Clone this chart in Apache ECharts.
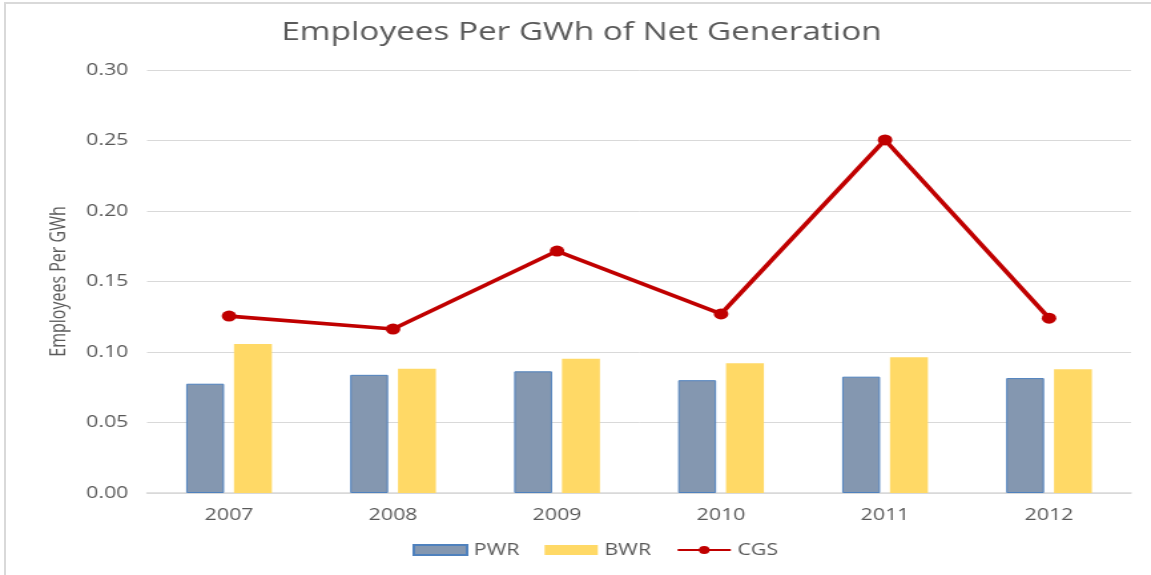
<!DOCTYPE html>
<html>
<head>
<meta charset="utf-8">
<script src="https://cdn.jsdelivr.net/npm/echarts@6/dist/echarts.min.js"></script>
<style>
html,body{margin:0;padding:0;background:#fff;overflow:hidden;}
#wrap{position:absolute;left:0;top:0;width:1151px;height:575px;overflow:hidden;}
#bl{position:absolute;left:4px;top:2px;width:2px;height:573px;background:#d9d9d9;}
#bt{position:absolute;left:4px;top:2px;width:1147px;height:2px;background:#d9d9d9;}
#chart{position:absolute;left:0;top:0;width:865px;height:575px;transform-origin:0 0;transform:scaleX(1.3306);}
</style>
</head>
<body>
<div id="wrap"><div id="chart"></div><div id="bl"></div><div id="bt"></div></div>
<script>
const categories = ['2007','2008','2009','2010','2011','2012'];
const pwr = [0.0775, 0.0838, 0.0863, 0.0800, 0.0825, 0.0815];
const bwr = [0.1057, 0.0882, 0.0952, 0.0920, 0.0962, 0.0877];
const cgs = [0.1255, 0.1163, 0.1716, 0.1270, 0.2504, 0.1240];
const yTicks = [0, 0.05, 0.10, 0.15, 0.20, 0.25, 0.30];

const chart = echarts.init(document.getElementById('chart'));
const txt = '#595959';
const font = '"Open Sans", sans-serif';
chart.setOption({
  animation: false,
  backgroundColor: 'transparent',
  title: {
    text: 'Employees Per GWh of Net Generation',
    left: 432, top: 15, textAlign: 'center',
    textStyle: {color: txt, fontSize: 25, fontWeight: 'normal', fontFamily: font}
  },
  grid: {left: 110.5, right: 15, top: 70, bottom: 82, containLabel: false},
  legend: {
    bottom: 12, left: 305, itemGap: 19, itemWidth: 40, itemHeight: 10,
    textStyle: {color: txt, fontSize: 16, fontFamily: font},
    data: [
      {name: 'PWR', icon: 'rect'},
      {name: 'BWR', icon: 'rect'},
      {name: 'CGS'}
    ]
  },
  xAxis: {
    type: 'category', data: categories,
    axisLine: {lineStyle: {color: '#d9d9d9', width: 1.5}},
    axisTick: {show: false},
    axisLabel: {color: txt, fontSize: 16, fontFamily: font, margin: 14}
  },
  yAxis: {
    type: 'value', min: 0, max: 0.30, interval: 0.05,
    name: 'Employees Per GWh', nameLocation: 'middle', nameGap: 58, nameRotate: 90,
    nameTextStyle: {color: txt, fontSize: 16, fontFamily: font},
    axisLabel: {color: txt, fontSize: 16, fontFamily: font, margin: 14,
      formatter: v => { const t = yTicks.find(x => Math.abs(x - v) < 1e-9); return (t === undefined ? v : t).toFixed(2); }},
    splitLine: {lineStyle: {color: '#d9d9d9', width: 1}},
    axisLine: {show: false}, axisTick: {show: false}
  },
  series: [
    {name: 'PWR', type: 'bar', data: pwr, barWidth: 28.5, barGap: '26%',
     itemStyle: {color: '#8497B0', borderColor: '#4F81BD', borderWidth: 1}},
    {name: 'BWR', type: 'bar', data: bwr, barWidth: 28.5,
     itemStyle: {color: '#FFD966'}},
    {name: 'CGS', type: 'line', data: cgs, symbol: 'circle', symbolSize: 11,
     lineStyle: {color: '#C00000', width: 3.7}, itemStyle: {color: '#C00000'}, z: 5}
  ]
});
</script>
</body>
</html>
